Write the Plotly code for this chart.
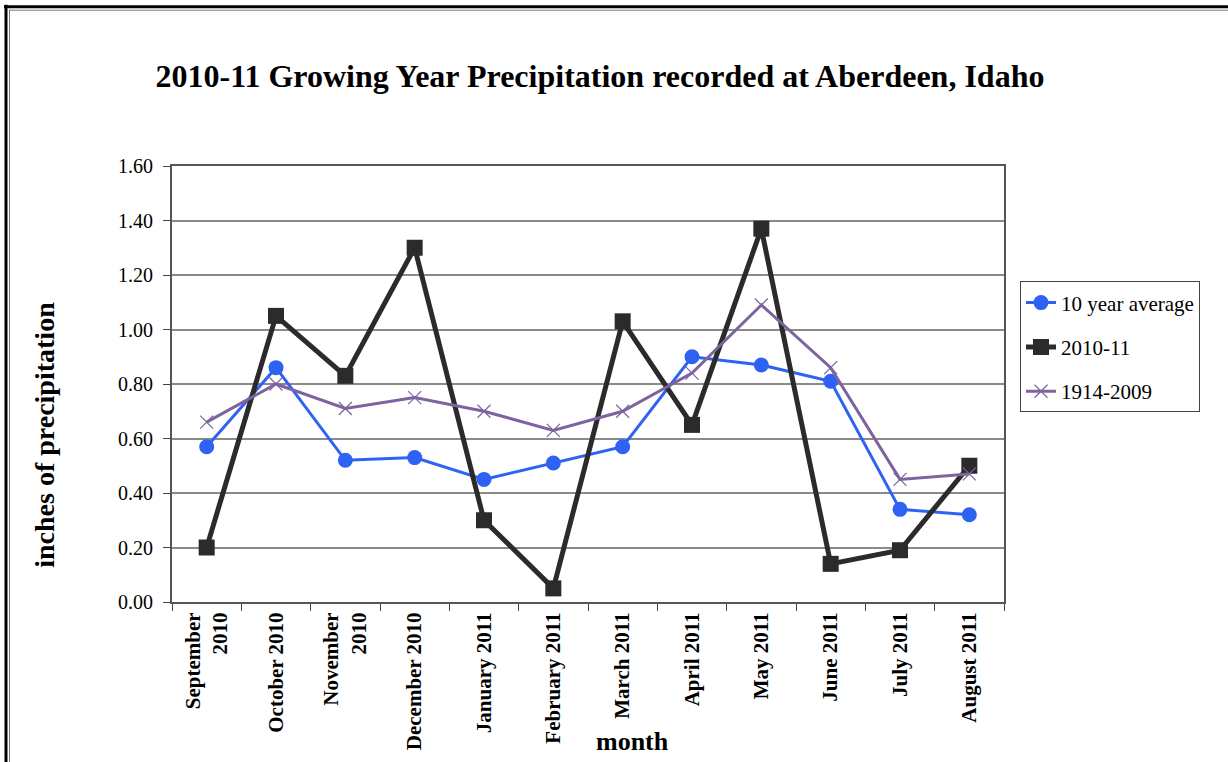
import plotly.graph_objects as go

months = ["September<br>2010", "October 2010", "November<br>2010", "December 2010",
          "January 2011", "February 2011", "March 2011", "April 2011", "May 2011",
          "June 2011", "July 2011", "August 2011"]
avg10 = [0.57, 0.86, 0.52, 0.53, 0.45, 0.51, 0.57, 0.90, 0.87, 0.81, 0.34, 0.32]
y2010_11 = [0.20, 1.05, 0.83, 1.30, 0.30, 0.05, 1.03, 0.65, 1.37, 0.14, 0.19, 0.50]
y1914_2009 = [0.66, 0.80, 0.71, 0.75, 0.70, 0.63, 0.70, 0.84, 1.09, 0.86, 0.45, 0.47]
yticks = [0.0, 0.2, 0.4, 0.6, 0.8, 1.0, 1.2, 1.4, 1.6]

SERIF = "Liberation Serif, Times New Roman, serif"
W, H = 1228, 762
L, R, T, B = 172, 1004, 166, 604

def px(x):
    return (x - L) / (R - L)

def py(y):
    return (B - y) / (B - T)

fig = go.Figure()
fig.add_trace(go.Scatter(x=months, y=avg10, name="10 year average", mode="lines+markers",
                         line=dict(color="#2E62F2", width=3),
                         marker=dict(symbol="circle", size=15, color="#2E62F2"),
                         legendgroup="a"))
fig.add_trace(go.Scatter(x=months, y=y2010_11, name="2010-11", mode="lines+markers",
                         line=dict(color="#2B2B2B", width=5),
                         marker=dict(symbol="square", size=16, color="#2B2B2B"),
                         legendgroup="b"))
fig.add_trace(go.Scatter(x=months, y=y1914_2009, name="1914-2009", mode="lines+markers",
                         line=dict(color="#7D63A0", width=3),
                         marker=dict(symbol="x-thin-open", size=13,
                                     line=dict(color="#9C88BA", width=1.2)),
                         legendgroup="c"))

shapes = [
    # outer double frame
    dict(type="line", xref="paper", yref="paper", x0=px(6), x1=px(6), y0=py(4), y1=py(770),
         line=dict(color="black", width=3)),
    dict(type="line", xref="paper", yref="paper", x0=px(4), x1=px(1240), y0=py(6), y1=py(6),
         line=dict(color="black", width=3)),
    dict(type="line", xref="paper", yref="paper", x0=px(9.5), x1=px(9.5), y0=py(9), y1=py(770),
         line=dict(color="#777777", width=1)),
    dict(type="line", xref="paper", yref="paper", x0=px(9), x1=px(1240), y0=py(9.5), y1=py(9.5),
         line=dict(color="#777777", width=1)),
]

annotations = [
    dict(text="<b>month</b>", xref="paper", yref="paper", x=px(632), y=py(744),
         showarrow=False, font=dict(family=SERIF, size=26, color="black"),
         xanchor="center", yanchor="middle"),
    dict(text="<b>inches of precipitation</b>", xref="paper", yref="paper", x=px(45), y=py(436),
         showarrow=False, textangle=-90, font=dict(family=SERIF, size=28, color="black"),
         xanchor="center", yanchor="middle"),
]

fig.update_layout(
    width=W, height=H,
    margin=dict(l=L, r=W - R, t=T, b=H - B),
    paper_bgcolor="white", plot_bgcolor="white",
    font=dict(family=SERIF, color="black"),
    title=dict(text="<b>2010-11 Growing Year Precipitation recorded at Aberdeen, Idaho</b>",
               x=px(600), xref="paper", xanchor="center", y=1 - 76 / H, yanchor="middle",
               font=dict(family=SERIF, size=32, color="black")),
    showlegend=True,
    legend=dict(x=px(1020), y=py(282), xanchor="left", yanchor="top",
                bordercolor="#444444", borderwidth=1, bgcolor="white",
                font=dict(family=SERIF, size=21, color="black"),
                traceorder="grouped", tracegroupgap=14, itemwidth=30),
    shapes=shapes,
    annotations=annotations,
)
fig.update_xaxes(type="category", range=[-0.5, len(months) - 0.5], tickson="boundaries",
                 ticks="outside", ticklen=7,
                 tickcolor="#444444", showgrid=False, showline=True, linecolor="#555555",
                 linewidth=2, mirror=True, tickangle=-90,
                 tickfont=dict(family=SERIF, size=21, color="black"),
                 tickprefix="<b>", ticksuffix="</b>")
fig.update_yaxes(range=[0, 1.6], tickvals=yticks, tickformat=".2f", ticks="outside", ticklen=7,
                 tickcolor="#444444", showgrid=True, gridcolor="#8A8A8A", gridwidth=2,
                 showline=True, linecolor="#555555", linewidth=2, mirror=True,
                 zeroline=False, ticklabelstandoff=6,
                 tickfont=dict(family=SERIF, size=20, color="black"))

fig.write_html("out.html", config={"displayModeBar": False},
               post_script="document.body.style.margin='0';")
